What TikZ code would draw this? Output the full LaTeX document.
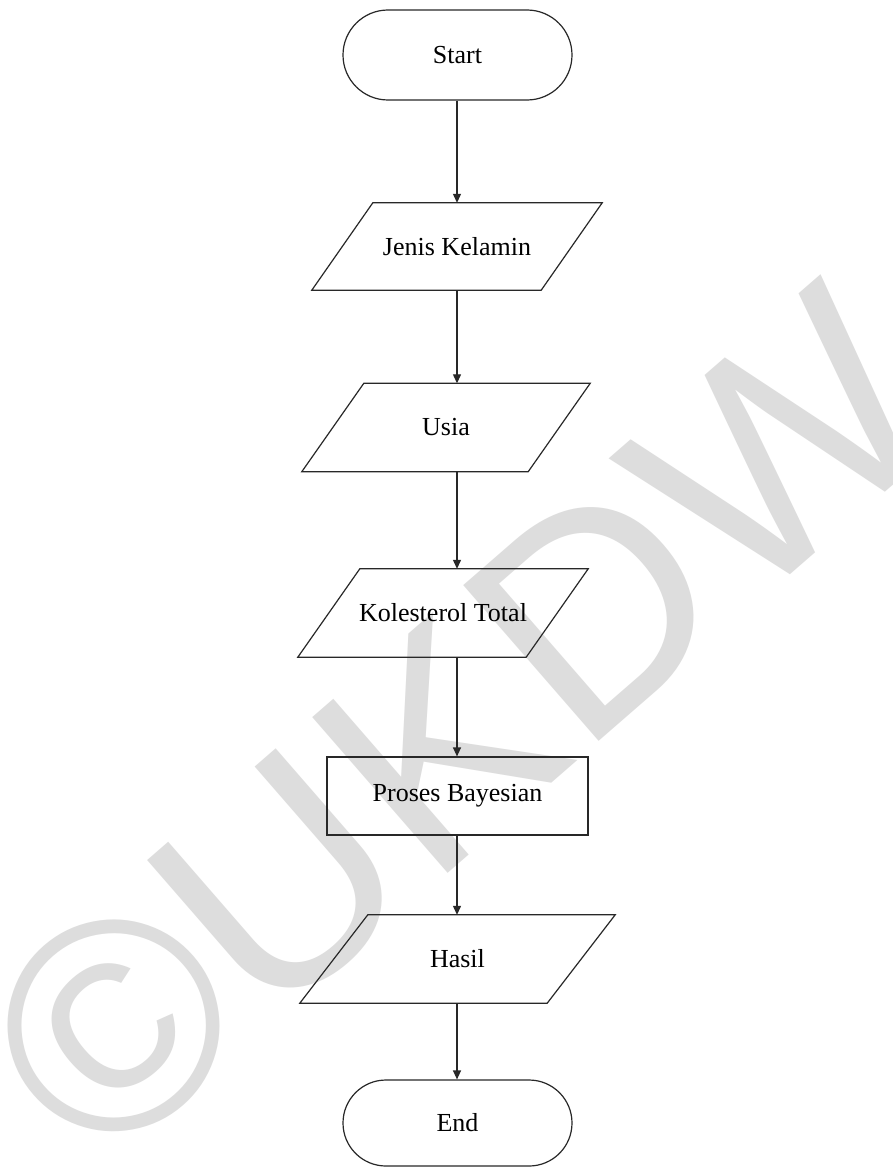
\documentclass[tikz,border=0pt]{standalone}
\usepackage{fontspec}
\setmainfont{Liberation Serif}
\newfontfamily\wmfont{Liberation Sans}
\usetikzlibrary{shapes.misc,arrows.meta}
\definecolor{wmgray}{RGB}{221,221,221}
\definecolor{inkline}{RGB}{40,40,40}
% parallelogram (input/output) shape: name, cx, cy, width, height, slant, text
\newcommand{\ioshape}[7]{%
  \node[iotext, minimum width=#4, minimum height=#5] (#1) at (#2,#3) {#7};
  \draw[shapeline] ([xshift=#6]#1.north west) -- (#1.north east)
    -- ([xshift=-#6]#1.south east) -- (#1.south west) -- cycle;}
\begin{document}
\begin{tikzpicture}[x=1pt,y=-1pt,
  shapeline/.style={draw=inkline, line width=1.2pt},
  txt/.style={font=\fontsize{26}{30}\selectfont, text=black},
  term/.style={rounded rectangle, shapeline, txt, minimum width=229pt, inner sep=0pt},
  proc/.style={rectangle, shapeline, txt, inner sep=0pt},
  iotext/.style={rectangle, txt, inner sep=0pt},
  flow/.style={draw=inkline, line width=1.2pt, -{Triangle[length=9pt,width=8pt]}}]
\useasboundingbox (0,0) rectangle (893,1172);
\clip (0,0) rectangle (893,1172);
\fill[white] (0,0) rectangle (893,1172);
% watermark
\node[rotate=41, anchor=base, inner sep=0pt, text=wmgray,
      font=\wmfont\fontsize{300}{300}\selectfont] (wm) at (528,803) {©UKDW};
% flowchart
\node[term, minimum height=90pt] (start) at (457.5,55) {Start};
\ioshape{jenis}{457}{246.5}{290pt}{87pt}{61pt}{Jenis Kelamin}
\ioshape{usia}{446}{427.5}{288pt}{88pt}{62pt}{Usia}
\ioshape{kol}{443}{613}{290pt}{88pt}{62pt}{Kolesterol Total}
\node[proc, minimum width=261pt, minimum height=78pt] (proses) at (457.5,796) {Proses Bayesian};
\ioshape{hasil}{457.5}{959}{315pt}{88pt}{68pt}{Hasil}
\node[term, minimum height=86pt] (end) at (457.5,1123) {End};
% connectors
\coordinate (axis) at (457,0);
\draw[flow] (axis |- start.south) -- (axis |- jenis.north);
\draw[flow] (axis |- jenis.south) -- (axis |- usia.north);
\draw[flow] (axis |- usia.south) -- (axis |- kol.north);
\draw[flow] (axis |- kol.south) -- (axis |- proses.north);
\draw[flow] (axis |- proses.south) -- (axis |- hasil.north);
\draw[flow] (axis |- hasil.south) -- (axis |- end.north);
\end{tikzpicture}
\end{document}
